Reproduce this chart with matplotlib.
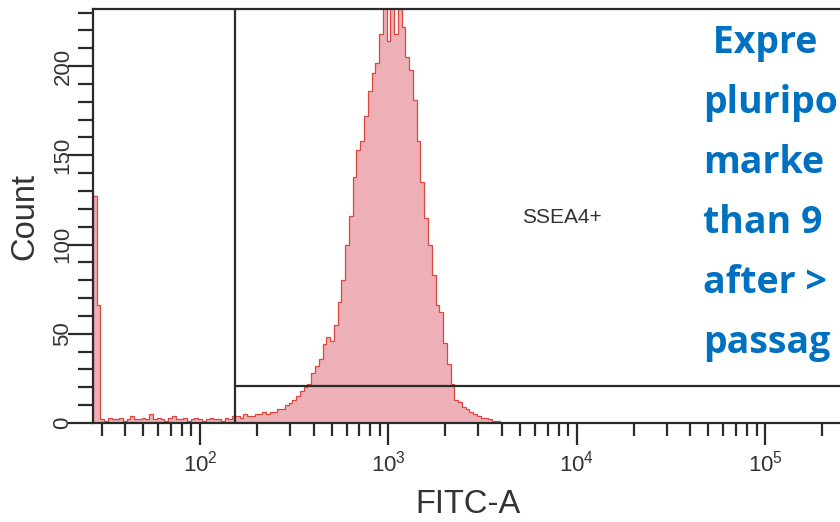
import numpy as np
import matplotlib
matplotlib.use("Agg")
import matplotlib.pyplot as plt
from matplotlib.ticker import LogLocator, NullFormatter, MultipleLocator, FixedLocator, FuncFormatter

plt.rcParams['font.family'] = ['Liberation Sans', 'DejaVu Sans']
plt.rcParams['mathtext.fontset'] = 'custom'
plt.rcParams['mathtext.rm'] = 'Liberation Sans'
plt.rcParams['mathtext.it'] = 'Liberation Sans:italic'
plt.rcParams['mathtext.bf'] = 'Liberation Sans:bold'

# ---------------- data ----------------
bin_start_log10 = 1.43      # left edge of first histogram bin (log10 FITC-A)
bin_width_log10 = 0.02      # bin width in decades
counts = [127, 66,
          2, 1, 3, 2, 2, 3, 1, 2, 4, 2, 2, 3, 2, 5, 2, 3, 2, 1, 3, 4,
          2, 2, 3, 1, 2, 3, 2, 1, 2, 3, 2, 2, 1, 3, 2, 4,
          4, 3, 5, 4, 4, 5, 5, 6, 5, 6,
          6, 8, 8, 10, 11, 13, 15, 18, 20, 22,
          28, 32, 36, 44, 48, 46, 55, 68, 80, 100,
          116, 138, 153, 158, 172, 186, 196, 202, 218, 240,
          214, 238, 218, 240, 222, 205, 198, 181, 158, 135,
          115, 100, 83, 66, 62, 45, 33, 22, 13, 12,
          9, 8, 6, 5, 4, 3, 3, 2, 1, 1, 0]
x_range = (27, 262144)
y_range = (0, 232)
y_major_ticks = [0, 50, 100, 150, 200]
x_major_exponents = [2, 3, 4, 5]
gate_x = 153          # vertical gate position
gate_y = 21           # horizontal gate level
gate_label = "SSEA4+"
gate_label_pos = (8365, 115)
x_label = "FITC-A"
y_label = "Count"
# visible (cropped) part of the side note in the reference
note_lines = [" Expre", "pluripo", "marke", "than 9", "after >", "passag"]

# ---------------- figure ----------------
W, H = 840, 522
fig = plt.figure(figsize=(W / 100, H / 100), dpi=100)
ax = fig.add_axes([93 / W, (H - 423) / H, (844 - 93) / W, (423 - 9) / H])

edges = 10 ** (bin_start_log10 + bin_width_log10 * np.arange(len(counts) + 1))
ax.stairs(counts, edges, fill=True, facecolor='#ecb0b6', edgecolor='none', zorder=1)
ax.stairs(counts, edges, color='#d9473f', lw=0.9, zorder=2)

ax.set_xscale('log')
ax.set_xlim(*x_range)
ax.set_ylim(*y_range)

spine_c = '#2a2a2a'
for s in ['top', 'left', 'bottom', 'right']:
    ax.spines[s].set_color(spine_c)
    ax.spines[s].set_linewidth(1.6)

# gates
ax.axvline(gate_x, color=spine_c, lw=1.6, zorder=3)
ax.plot([gate_x, x_range[1]], [gate_y, gate_y], color=spine_c, lw=1.6, zorder=3)
ax.text(gate_label_pos[0], gate_label_pos[1], gate_label, fontsize=15,
        color='#333333', ha='center', va='center')

# y ticks
ax.yaxis.set_major_locator(FixedLocator(y_major_ticks))
ax.yaxis.set_minor_locator(MultipleLocator(10))
ax.tick_params(axis='y', which='major', length=18, width=1.6, color=spine_c,
               labelsize=16, labelcolor='#333333', pad=-4, labelrotation=90)
ax.tick_params(axis='y', which='minor', length=11, width=1.6, color=spine_c)
for lab in ax.get_yticklabels():
    lab.set_va('center')

# x ticks
ax.xaxis.set_major_locator(FixedLocator([10.0 ** e for e in x_major_exponents]))
ax.xaxis.set_major_formatter(FuncFormatter(lambda v, p: r'$10^{%d}$' % round(np.log10(v))))
ax.xaxis.set_minor_locator(LogLocator(base=10, subs=np.arange(2, 10), numticks=20))
ax.xaxis.set_minor_formatter(NullFormatter())
ax.tick_params(axis='x', which='major', length=16, width=1.6, color=spine_c,
               labelsize=16, labelcolor='#333333', pad=4)
ax.tick_params(axis='x', which='minor', length=9, width=1.6, color=spine_c)

ax.set_xlabel(x_label, fontsize=23.5, color='#333333', labelpad=9)
ax.set_ylabel(y_label, fontsize=23.5, color='#333333', labelpad=9)

for i, line in enumerate(note_lines):
    fig.text(703 / W, 1 - (53 + 60 * i) / H, line, fontsize=27,
             fontweight='bold', family=['Open Sans', 'DejaVu Sans'],
             color='#0070c0', ha='left', va='baseline')

fig.savefig('out.png', dpi=100)
